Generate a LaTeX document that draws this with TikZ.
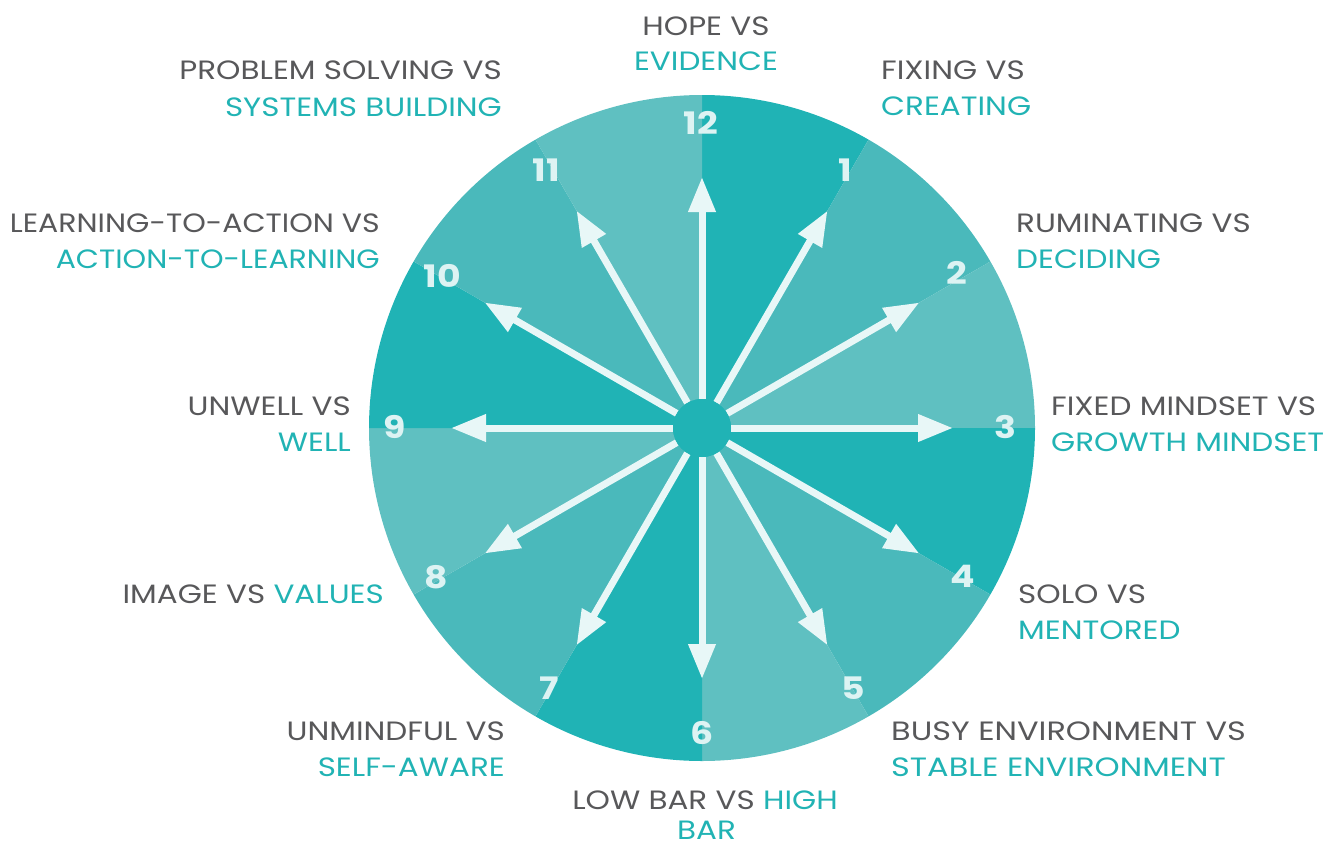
\documentclass[tikz,border=0pt]{standalone}
\usepackage{fontspec}
\setmainfont{Poppins}[FakeStretch=1.17]
\usetikzlibrary{arrows.meta,calc}
\definecolor{tdark}{HTML}{20B3B5}
\definecolor{tmed}{HTML}{4AB9BB}
\definecolor{tlight}{HTML}{5FC0C1}
\definecolor{tgray}{HTML}{58585A}
\definecolor{tteal}{HTML}{21B3B4}
\definecolor{arrowc}{HTML}{E8F7F7}
\definecolor{numc}{HTML}{DDF3F3}
\tikzset{
  x=1pt,y=-1pt,
  lbl/.style={inner sep=0pt, font=\fontsize{26.5}{36}\selectfont},
  gl/.style={lbl, text=tgray},
  tl/.style={lbl, text=tteal},
  num/.style={inner sep=0pt, text=numc, font=\fontsize{31}{36}\selectfont\bfseries},
  spoke/.style={draw=arrowc, line width=7pt, -{Triangle[length=35pt,width=26pt]}},
  hub/.style={circle, fill=tdark, minimum size=58pt, inner sep=0pt}
}
\begin{document}
\begin{tikzpicture}
\useasboundingbox (0,0) rectangle (1340,846);
\coordinate (c) at (702,428);
% wedges
\foreach \i in {0,...,11}{
  \pgfmathtruncatemacro{\m}{mod(\i,3)}
  \ifcase\m \def\col{tdark}\or \def\col{tmed}\or \def\col{tlight}\fi
  \pgfmathsetmacro{\a}{30*\i-90}
  \pgfmathsetmacro{\b}{30*\i-60}
  \fill[\col] (c) -- ++(\a:333) arc[start angle=\a, end angle=\b, radius=333] -- cycle;
}
% hub
\node[hub] (h) at (c) {};
% arrow tips
\foreach \i in {1,...,12}{
  \pgfmathsetmacro{\a}{30*\i-90}
  \coordinate (tip\i) at ($(c)+(\a:251)$);
  \draw[spoke] (h) -- (tip\i);
}
\node[hub] at (c) {};
% numbers
\node[num] (n12) at (701,123) {12};
\node[num] (n1) at (845,170) {1};
\node[num] (n2) at (957,273) {2};
\node[num] (n3) at (1005,427) {3};
\node[num] (n4) at (963,576) {4};
\node[num] (n5) at (853,688) {5};
\node[num] (n6) at (702,733) {6};
\node[num] (n7) at (549,688) {7};
\node[num] (n8) at (436,577) {8};
\node[num] (n9) at (395,427) {9};
\node[num] (n10) at (442,276) {10};
\node[num] (n11) at (546,170) {11};
% labels
\node[gl, anchor=base] (t12a) at (706,35) {HOPE VS};
\node[tl, anchor=base] (t12b) at (706,70) {EVIDENCE};
\node[gl, anchor=base west] (t1a) at (881,79) {FIXING VS};
\node[tl, anchor=base west] (t1b) at (881,115) {CREATING};
\node[gl, anchor=base west] (t2a) at (1016,232) {RUMINATING VS};
\node[tl, anchor=base west] (t2b) at (1016,268) {DECIDING};
\node[gl, anchor=base west] (t3a) at (1051,415) {FIXED MINDSET VS};
\node[tl, anchor=base west] (t3b) at (1051,451) {GROWTH MINDSET};
\node[gl, anchor=base west] (t4a) at (1018,603) {SOLO VS};
\node[tl, anchor=base west] (t4b) at (1018,639) {MENTORED};
\node[gl, anchor=base west] (t5a) at (891,740.5) {\scalebox{1.03}[1]{BUSY ENVIRONMENT VS}};
\node[tl, anchor=base west] (t5b) at (891,776) {\scalebox{1.03}[1]{STABLE ENVIRONMENT}};
\node[lbl, anchor=base] (t6a) at (705,809) {\textcolor{tgray}{LOW BAR VS} \textcolor{tteal}{HIGH}};
\node[tl, anchor=base] (t6b) at (706.5,839) {BAR};
\node[gl, anchor=base east] (t7a) at (505,740.5) {UNMINDFUL VS};
\node[tl, anchor=base east] (t7b) at (505,776) {SELF-AWARE};
\node[lbl, anchor=base east] (t8a) at (384,603) {\textcolor{tgray}{IMAGE VS} \textcolor{tteal}{VALUES}};
\node[gl, anchor=base east] (t9a) at (351,415) {UNWELL VS};
\node[tl, anchor=base east] (t9b) at (351,451) {WELL};
\node[gl, anchor=base east] (t10a) at (380,232) {\scalebox{0.967}[1]{LEARNING-TO-ACTION VS}};
\node[tl, anchor=base east] (t10b) at (380,268) {\scalebox{0.967}[1]{ACTION-TO-LEARNING}};
\node[gl, anchor=base east] (t11a) at (502,79.5) {PROBLEM SOLVING VS};
\node[tl, anchor=base east] (t11b) at (502,116) {SYSTEMS BUILDING};
\end{tikzpicture}
\end{document}
